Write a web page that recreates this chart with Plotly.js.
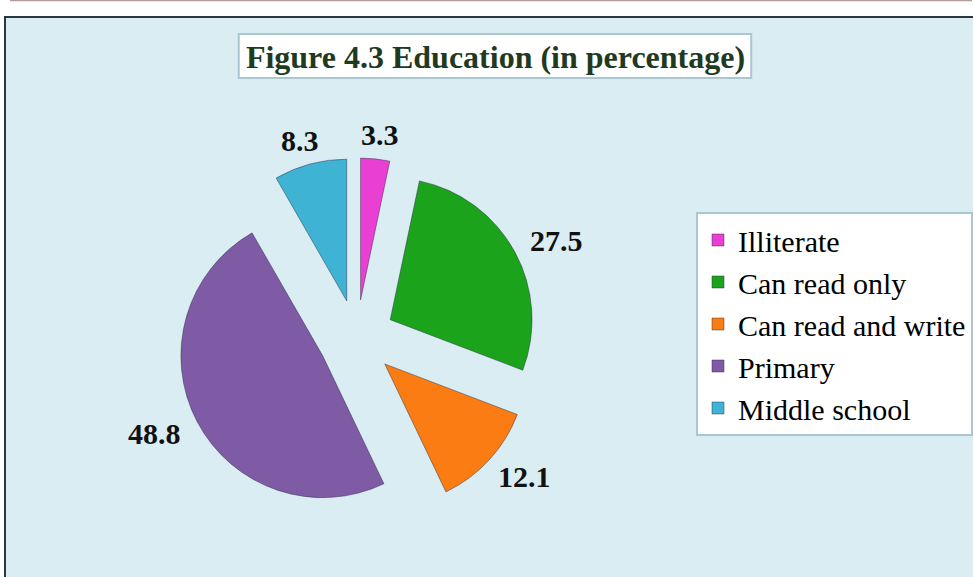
<!DOCTYPE html>
<html>
<head>
<meta charset="utf-8">
<script src="https://cdn.plot.ly/plotly-3.0.1.min.js"></script>
<style>
html,body{margin:0;padding:0;background:#ffffff;}
#chart{width:973px;height:577px;}
</style>
</head>
<body>
<div id="chart"></div>
<script>
// ---- data ----
const categories = ["Illiterate", "Can read only", "Can read and write", "Primary", "Middle school"];
const percentages = [3.3, 27.5, 12.1, 48.8, 8.3];
const chartTitle = "Figure 4.3 Education (in percentage)";

// ---- styles ----
const sliceColors = ["#E940D3", "#1BA41B", "#FB7C12", "#7F5BA6", "#3FB3D3"];
const W = 973, H = 577;
const PULL = 0.27;
const domX = [0.1816, 0.5522], domY = [0.1017, 0.7267];
const SERIF = "Liberation Serif";
const labelFont = {family: SERIF, size: 30, color: "#111111", weight: "bold"};
const GAP = 21;

// pie geometry as Plotly computes it (margins are 0)
const boxW = W * (domX[1] - domX[0]), boxH = H * (domY[1] - domY[0]);
const R = Math.min(boxW, boxH) / (2 + 2 * PULL);
const CX = W * (domX[0] + domX[1]) / 2;
const CY = H * (1 - domY[0]) - boxH / 2;

// value labels placed just outside each pulled slice, along its bisector
const total = percentages.reduce((a, b) => a + b, 0);
let cum = 0;
const annotations = percentages.map((v) => {
  const mid = (cum + v / 2) / total * 2 * Math.PI;
  cum += v;
  const s = Math.sin(mid), c = Math.cos(mid);
  const txt = v.toFixed(1);
  const w = txt.length * 0.45 * labelFont.size, h = 6;
  const D = R * (1 + PULL) + GAP;
  const px = CX + D * s + (w / 2) * s;
  const py = CY - D * c - (h / 2) * c;
  return {
    text: txt, x: px / W, y: 1 - py / H, xref: "paper", yref: "paper",
    xanchor: "center", yanchor: "middle", showarrow: false, font: labelFont
  };
});

const trace = {
  type: "pie", labels: categories, values: percentages,
  sort: false, direction: "clockwise", rotation: 0,
  pull: percentages.map(() => PULL),
  textinfo: "none", hoverinfo: "label+value",
  marker: {colors: sliceColors, line: {color: "rgba(40,40,60,0.45)", width: 1}},
  domain: {x: domX, y: domY}
};

const layout = {
  width: W, height: H,
  margin: {l: 0, r: 0, t: 0, b: 0},
  paper_bgcolor: "#ffffff",
  font: {family: SERIF, size: 30, color: "#000000"},
  title: {
    text: chartTitle,
    font: {family: SERIF, size: 32, color: "#1F3A1F", weight: "bold"},
    x: 495.5 / W, xanchor: "center", xref: "container",
    y: 1 - 57 / H, yanchor: "middle", yref: "container"
  },
  showlegend: true,
  legend: {
    x: 697 / W, y: 1 - 212 / H, xanchor: "left", yanchor: "top",
    bgcolor: "#ffffff", bordercolor: "#A9C6D1", borderwidth: 2,
    font: {family: SERIF, size: 30, color: "#000000"},
    traceorder: "normal"
  },
  shapes: [
    {type: "rect", xref: "paper", yref: "paper", layer: "below",
     x0: 5 / W, x1: 1.02, y0: -0.02, y1: 1 - 17 / H,
     fillcolor: "#DAEDF3", line: {color: "#2A3740", width: 2}},
    {type: "line", xref: "paper", yref: "paper", layer: "below",
     x0: 10 / W, x1: 1, y0: 1 - 0.6 / H, y1: 1 - 0.6 / H,
     line: {color: "#B39C97", width: 1.2}},
    {type: "rect", xref: "paper", yref: "paper", layer: "below",
     x0: 239 / W, x1: 752 / W, y0: 1 - 78 / H, y1: 1 - 34 / H,
     fillcolor: "#ffffff", line: {color: "#A9C6D1", width: 2}}
  ],
  annotations: annotations
};

Plotly.newPlot("chart", [trace], layout, {displayModeBar: false});
</script>
</body>
</html>
